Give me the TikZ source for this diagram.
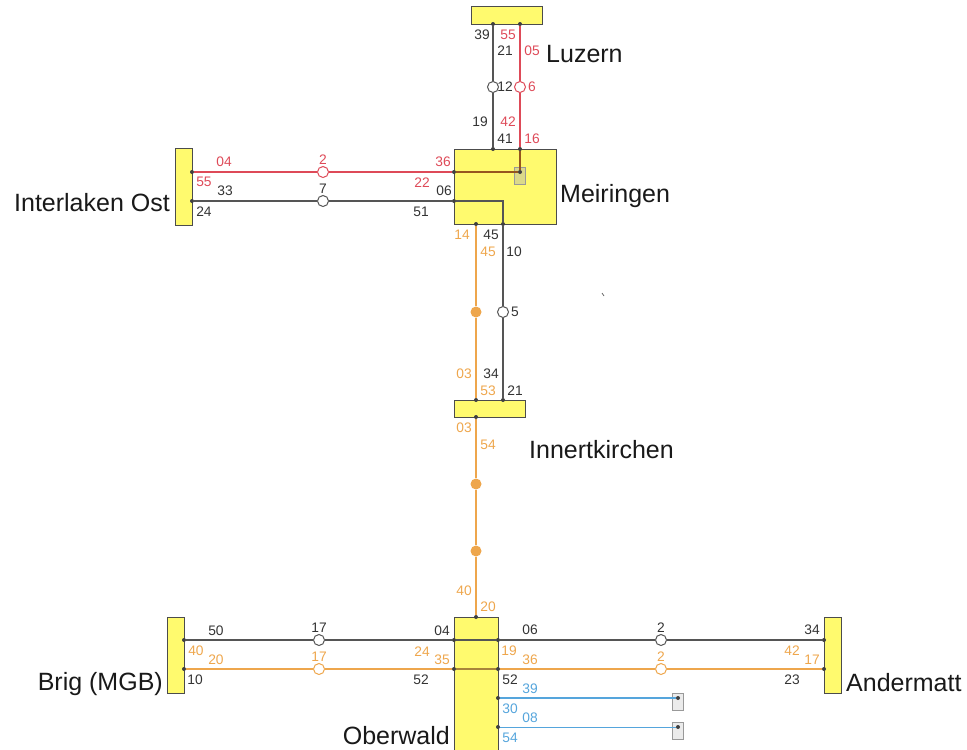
\documentclass[tikz,border=0pt]{standalone}
\usepackage{fontspec}
\setmainfont{Liberation Sans}
\definecolor{barY}{HTML}{FFFA6E}
\definecolor{rd}{HTML}{DE4A58}
\definecolor{org}{HTML}{EEA64C}
\definecolor{blu}{HTML}{55A5DC}
\definecolor{blk}{HTML}{333333}
\definecolor{lnk}{HTML}{555555}
\definecolor{brn}{HTML}{96561E}
\definecolor{brn2}{HTML}{A8843A}
\pgfdeclarelayer{top}
\pgfsetlayers{main,top}
\begin{document}
\begin{tikzpicture}[x=1pt,y=-1pt,
  stn/.style={draw=black!70,fill=barY,line width=1pt,inner sep=0pt,outer sep=0pt,rectangle},
  port/.style={circle,fill=black!75,inner sep=0pt,minimum size=4pt},
  halt/.style={circle,draw=#1,fill=white,line width=1pt,inner sep=0pt,minimum size=11pt},
  solid halt/.style={circle,fill=org,inner sep=0pt,minimum size=11pt},
  dep/.style={draw=black!40,fill=#1,line width=1pt,inner sep=0pt,minimum width=11pt,minimum height=17pt},
  ln/.style={draw=#1,line width=1.1pt},
  lb/.style={font=\fontsize{13.8}{14}\selectfont,inner sep=0pt,text=#1},
  nm/.style={font=\fontsize{25}{25}\selectfont,inner sep=0pt,text=black!90}]
\useasboundingbox (0,0) rectangle (967,750);
% stations
\node[stn,minimum width=71pt,minimum height=18pt] (luz) at (506.5,15) {};
\node[stn,minimum width=102pt,minimum height=75pt] (mei) at (505,186.5) {};
\node[stn,minimum width=17pt,minimum height=77pt] (int) at (183.5,186.5) {};
\node[stn,minimum width=71pt,minimum height=17pt] (inn) at (489.5,408.5) {};
\node[stn,minimum width=44pt,minimum height=140pt] (obe) at (476,687) {};
\node[stn,minimum width=17pt,minimum height=76pt] (bri) at (175.5,655) {};
\node[stn,minimum width=17pt,minimum height=76pt] (and) at (832.5,655) {};
% deposits
\node[dep={black!20!barY!70!white}] (d1) at (520,175.5) {};
\node[dep={black!8}] (d2) at (678,701.5) {};
\node[dep={black!8}] (d3) at (678,730.5) {};
\begin{pgfonlayer}{top}
\foreach \n/\x/\y in {luzA/493/24,luzB/520/24,meiA/493/149,meiB/520/149,meiC/454/172,meiD/454/201,meiE/476/224,meiF/503/224,meiG/520/172,
 intA/192/172,intB/192/201,innA/476/400,innB/503/400,innC/476/417,
 obeT/476/617,obeA/454/640,obeB/454/669,obeC/498/640,obeD/498/669,obeE/498/698,obeF/498/727,
 briA/184/640,briB/184/669,andA/824/640,andB/824/669,d2p/678/698,d3p/678/727}
  \node[port] (\n) at (\x,\y) {};
\node[halt=lnk] (h12) at (493,87) {};
\node[halt=rd] (h6) at (520,87) {};
\node[halt=rd] (h2r) at (323,172) {};
\node[halt=lnk] (h7) at (323,201) {};
\node[halt=lnk] (h5) at (503,312) {};
\node[solid halt] (f1) at (476,312) {};
\node[solid halt] (f2) at (476,484) {};
\node[solid halt] (f3) at (476,551) {};
\node[halt=lnk] (h17) at (319,640) {};
\node[halt=org] (h17o) at (319,669) {};
\node[halt=lnk] (h2) at (661,640) {};
\node[halt=org] (h2o) at (661,669) {};
\end{pgfonlayer}
\coordinate (meiK) at (503,201);
% connectors
\draw[ln=lnk] (luzA) -- (h12) -- (meiA);
\draw[ln=rd] (luzB) -- (h6) -- (meiB);
\draw[ln=rd] (intA) -- (h2r) -- (meiC);
\draw[ln=lnk] (intB) -- (h7) -- (meiD);
\draw[ln=lnk] (meiF) -- (h5) -- (innB);
\draw[ln=org] (meiE) -- (f1) -- (innA);
\draw[ln=org] (innC) -- (f2) -- (f3) -- (obeT);
\draw[ln=lnk] (briA) -- (h17) -- (obeA);
\draw[ln=org] (briB) -- (h17o) -- (obeB);
\draw[ln=lnk] (obeC) -- (h2) -- (andA);
\draw[ln=org] (obeD) -- (h2o) -- (andB);
\draw[ln=blu] (obeE) -- (d2p);
\draw[ln=blu,line width=.8pt] (obeF) -- (d3p);
% inside stations
\draw[ln=brn] (meiC) -- (meiG) -- (meiB);
\draw[ln=lnk] (meiD) -- (meiK) -- (meiF);
\draw[ln=lnk] (obeA) -- (obeC);
\draw[ln=brn2] (obeB) -- (obeD);
% names
\node[nm,anchor=west] (nLuz) at (546,54) {Luzern};
\node[nm,anchor=west] (nMei) at (560,196) {Meiringen};
\node[nm,anchor=east] (nInt) at (170,203) {Interlaken Ost};
\node[nm,anchor=west] (nInn) at (529,450) {Innertkirchen};
\node[nm,anchor=east] (nBri) at (163,684) {Brig (MGB)};
\node[nm,anchor=west] (nAnd) at (846,683) {Andermatt};
\node[nm,anchor=east] (nObe) at (450,736) {Oberwald};
% labels
\foreach \t/\x/\y/\c in {
 39/482/35/blk,21/505/51/blk,55/508/35/rd,05/532/51/rd,12/505/87/blk,6/532/87/rd,19/480/122/blk,42/508/122/rd,41/505/139/blk,16/532/139/rd,
 04/224/162/rd,2/323/160/rd,36/443/162/rd,55/204/182/rd,33/225/191/blk,7/323/189/blk,22/422/183/rd,06/444/191/blk,24/204/212/blk,51/421/212/blk,
 14/462/235/org,45/491/235/blk,45/488/252/org,10/514/252/blk,5/515/312/blk,
 03/464/374/org,34/491/374/blk,53/488/391/org,21/515/391/blk,03/464/428/org,54/488/445/org,40/464/591/org,20/488/607/org,
 50/216/631/blk,17/319/628/blk,04/442/631/blk,06/530/630/blk,2/661/628/blk,34/812/630/blk,
 40/196/651/org,20/216/660/org,17/319/657/org,24/422/652/org,35/442/660/org,19/509/651/org,36/530/660/org,2/661/657/org,42/792/651/org,17/812/660/org,
 10/195/680/blk,52/421/680/blk,52/510/680/blk,23/792/680/blk,39/530/689/blu,30/510/709/blu,08/530/718/blu,54/510/738/blu}
  \node[lb=\c] at (\x,\y) {\t};
% stray speck
\draw[black!60,line width=.8pt] (602,293) -- (604,296);
\end{tikzpicture}
\end{document}
